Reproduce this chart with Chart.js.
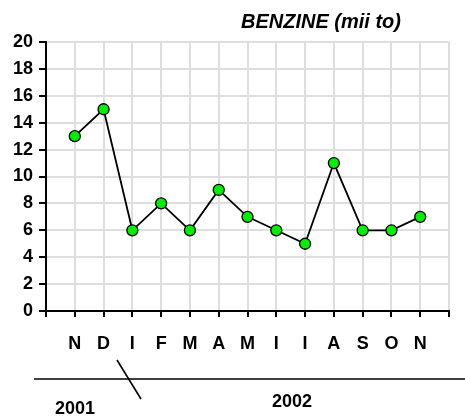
<!DOCTYPE html>
<html>
<head>
<meta charset="utf-8">
<script src="https://cdn.jsdelivr.net/npm/chart.js@4"></script>
<style>
  html, body { margin: 0; padding: 0; background: #fff; }
  #wrap { width: 465px; height: 420px; }
</style>
</head>
<body>
<div id="wrap"><canvas id="benzChart" width="465" height="420"></canvas></div>
<script>
// month initials (Romanian), Nov 2001 .. Nov 2002
const months = ['N', 'D', 'I', 'F', 'M', 'A', 'M', 'I', 'I', 'A', 'S', 'O', 'N'];
const values = [13, 15, 6, 8, 6, 9, 7, 6, 5, 11, 6, 6, 7];
const yTicks = [0, 2, 4, 6, 8, 10, 12, 14, 16, 18, 20];
const years = ['2001', '2002'];
const chartTitle = 'BENZINE (mii to)';

const FONT = 'Liberation Sans, Arial, sans-serif';

// extra drawing: title and the year band under the axis
const yearBand = {
  id: 'yearBand',
  afterDraw(chart) {
    const ctx = chart.ctx;
    ctx.save();
    ctx.fillStyle = '#000';
    ctx.font = 'italic bold 20px ' + FONT;
    ctx.textAlign = 'center';
    ctx.textBaseline = 'middle';
    ctx.fillText(chartTitle, 321, 22);

    ctx.strokeStyle = '#000';
    ctx.lineWidth = 1.6;
    ctx.beginPath();
    ctx.moveTo(34, 379);
    ctx.lineTo(465, 379);
    ctx.stroke();
    ctx.beginPath();
    ctx.moveTo(117, 360);
    ctx.lineTo(141, 399);
    ctx.stroke();

    ctx.font = 'bold 18px ' + FONT;
    ctx.fillText(years[0], 75, 409);
    ctx.fillText(years[1], 292, 402);
    ctx.restore();
  }
};

const ctx = document.getElementById('benzChart').getContext('2d');
new Chart(ctx, {
  type: 'line',
  data: {
    datasets: [{
      data: values.map((v, i) => ({ x: i + 1, y: v })),
      borderColor: '#000',
      borderWidth: 1.8,
      pointBackgroundColor: '#00ee00',
      pointBorderColor: '#000',
      pointBorderWidth: 1.3,
      pointRadius: 5.5,
      tension: 0,
      fill: false
    }]
  },
  options: {
    responsive: false,
    animation: false,
    layout: { padding: { top: 42, right: 16, left: 0, bottom: 0 } },
    plugins: {
      legend: { display: false },
      title: { display: false },
      tooltip: { enabled: false }
    },
    scales: {
      x: {
        type: 'linear',
        min: 0,
        max: months.length + 1,
        afterBuildTicks(scale) {
          scale.ticks = [];
          for (let i = 0; i <= months.length + 1; i++) scale.ticks.push({ value: i });
        },
        afterFit(scale) { scale.height = 109; },
        grid: { color: '#dedede', lineWidth: 2, tickColor: '#000', tickLength: 6 },
        border: { color: '#000', width: 2 },
        ticks: {
          padding: 16,
          autoSkip: false,
          maxRotation: 0,
          color: '#000',
          font: { family: FONT, size: 18, weight: 'bold' },
          callback: (v) => months[v - 1] || ''
        }
      },
      y: {
        min: 0,
        max: 20,
        afterBuildTicks(scale) { scale.ticks = yTicks.map(v => ({ value: v })); },
        afterFit(scale) { scale.width = 46; },
        grid: { color: '#dedede', lineWidth: 2, tickColor: '#000', tickLength: 7 },
        border: { color: '#000', width: 2 },
        ticks: {
          padding: 6,
          color: '#000',
          font: { family: FONT, size: 18, weight: 'bold' }
        }
      }
    }
  },
  plugins: [yearBand]
});
</script>
</body>
</html>
